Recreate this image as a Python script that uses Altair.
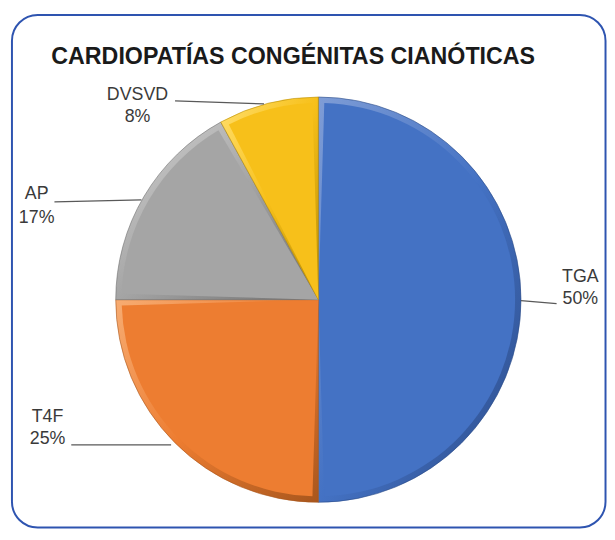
import altair as alt
import pandas as pd

# ---- data ----
categories = ["TGA", "T4F", "AP", "DVSVD"]
values = [50, 25, 17, 8]
pct_labels = ["50%", "25%", "17%", "8%"]

# ---- styles ----
base_colors = ["#4472C4", "#ED7D31", "#A5A5A5", "#F7C01A"]
light_colors = ["#7F9DD6", "#F7AC72", "#D2D2D2", "#FFDE6A"]
dark_colors = ["#2B4A86", "#A8561D", "#6F6F6F", "#B88C00"]

# ---- layout (plot-area pixels) ----
W, H = 606, 524
CX, CY, R = 314, 292, 205
BEVEL = 6
label_x = [579, 40, 29, 131]
label_y1 = [274, 416, 190, 90]
label_y2 = [296, 438, 214, 112]
lead_x1 = [519, 165, 135, 259]
lead_y1 = [293, 439, 191, 94]
lead_x2 = [555, 64, 47, 169]
lead_y2 = [296, 439, 193, 91]

df = pd.DataFrame({"cat": categories, "value": values, "pct": pct_labels})
df["end"] = df["value"].cumsum()
df["start"] = df["end"] - df["value"]
total = float(sum(values))

lay = pd.DataFrame({
    "cat": categories, "pct": pct_labels,
    "lx": label_x, "ly1": label_y1, "ly2": label_y2,
    "x1": lead_x1, "y1": lead_y1, "x2": lead_x2, "y2": lead_y2,
})

xs = alt.Scale(domain=[0, W], range=[0, W])
ys = alt.Scale(domain=[0, H], range=[0, H])
ts = alt.Scale(domain=[0, total], range=[0, 6.283185307179586])

FONT = "Liberation Sans"

layers = []

# border
border = alt.Chart(pd.DataFrame({"k": [0]})).mark_rect(
    fillOpacity=0, stroke="#2E54B0", strokeWidth=2, cornerRadius=26
).encode(x=alt.value(4), x2=alt.value(W - 1.5), y=alt.value(4), y2=alt.value(H - 1.5))
layers.append(border)

for i, c in enumerate(categories):
    grad = alt.LinearGradient(
        gradient="linear",
        stops=[alt.GradientStop(offset=0, color=light_colors[i]),
               alt.GradientStop(offset=0.5, color=base_colors[i]),
               alt.GradientStop(offset=1, color=dark_colors[i])],
        x1=0, y1=0, x2=1, y2=1,
    )
    frame = alt.Chart(df).transform_filter(alt.datum.cat == c).mark_arc(
        outerRadius=R, fill=grad, stroke=dark_colors[i], strokeWidth=0.6
    ).encode(
        theta=alt.Theta("start:Q", scale=ts),
        theta2="end:Q",
        x=alt.value(CX), y=alt.value(CY),
    )
    inner = alt.Chart(df).transform_filter(alt.datum.cat == c).mark_arc(
        outerRadius=R - BEVEL, padAngle=2 * BEVEL / (R - BEVEL), fill=base_colors[i]
    ).encode(
        theta=alt.Theta("start:Q", scale=ts),
        theta2="end:Q",
        x=alt.value(CX), y=alt.value(CY),
    )
    layers += [frame, inner]

leaders = alt.Chart(lay).mark_rule(color="#595959", strokeWidth=1.3).encode(
    x=alt.X("x1:Q", scale=xs, axis=None),
    y=alt.Y("y1:Q", scale=ys, axis=None),
    x2="x2:Q", y2="y2:Q",
)
names = alt.Chart(lay).mark_text(
    font=FONT, fontSize=18, color="#3A3A3A", align="center", baseline="alphabetic"
).encode(
    x=alt.X("lx:Q", scale=xs, axis=None),
    y=alt.Y("ly1:Q", scale=ys, axis=None),
    text="cat:N",
)
pcts = alt.Chart(lay).mark_text(
    font=FONT, fontSize=18, color="#3A3A3A", align="center", baseline="alphabetic"
).encode(
    x=alt.X("lx:Q", scale=xs, axis=None),
    y=alt.Y("ly2:Q", scale=ys, axis=None),
    text="pct:N",
)
title = alt.Chart(pd.DataFrame({"t": ["CARDIOPATÍAS CONGÉNITAS CIANÓTICAS"]})).mark_text(
    font=FONT, fontSize=23.5, fontWeight="bold", color="#1A1A1A",
    align="center", baseline="alphabetic"
).encode(x=alt.value(288.5), y=alt.value(54), text="t:N")

layers += [leaders, names, pcts, title]

chart = alt.layer(*layers).properties(
    width=W, height=H, padding=0, autosize="none", background="white"
).configure_view(strokeWidth=0)

chart.save("out.html", embed_options={"renderer": "svg", "actions": False})
